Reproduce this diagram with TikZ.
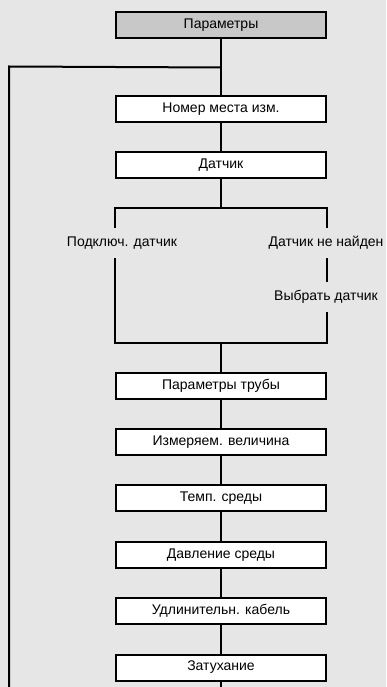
\documentclass[tikz,border=0pt]{standalone}
\usepackage{fontspec}
\setmainfont{Liberation Sans}
\usetikzlibrary{positioning}
\definecolor{panelgray}{HTML}{E6E6E6}
\definecolor{headgray}{HTML}{C8C8C8}

\begin{document}
\begin{tikzpicture}[
        x=1pt, y=1pt,
        every node/.style={font=\fontsize{14}{16}\selectfont},
        menubox/.style={rectangle, draw, line width=2pt, minimum width=210pt, minimum height=26pt, inner sep=0pt, fill=#1},
        menubox/.default=white,
        optlabel/.style={minimum height=30pt, inner sep=0pt},
        link/.style={line width=2pt}
    ]
%
    \fill[panelgray] (0,0) rectangle (386,-687);
    \useasboundingbox (0,0) rectangle (386,-687);
%
    \node[menubox=headgray] (param) at (221,-25.5) {Параметры};
    \node[menubox, below=55.5pt of param] (place) {Номер места изм.};
    \node[menubox, below=28pt of place] (sensor) {Датчик};
    \node[menubox, below=192.5pt of sensor] (pipe) {Параметры трубы};
    \node[menubox, below=28.4pt of pipe] (quantity) {Измеряем. величина};
    \node[menubox, below=28.4pt of quantity] (temp) {Темп. среды};
    \node[menubox, below=28.4pt of temp] (pressure) {Давление среды};
    \node[menubox, below=28.4pt of pressure] (cable) {Удлинительн. кабель};
    \node[menubox, below=28.4pt of cable] (damping) {Затухание};
%
    % sensor options
    \node[optlabel] (connect) at (122,-243) {Подключ. датчик};
    \node[optlabel] (notfound) at (326,-243) {Датчик не найден};
    \node[optlabel] (choose) at (326,-297) {Выбрать датчик};
%
    \coordinate[below=28pt of param] (loopjoin);
    \coordinate (loopleft) at (9,-66.5);
    \coordinate (loopend) at (9,-687);
    \coordinate (tail) at (221,-687);
    \coordinate[below=29pt of sensor] (brtop);
    \coordinate[above=29pt of pipe] (brbot);
    \coordinate (brtl) at (brtop -| sensor.west);
    \coordinate (brtr) at (brtop -| sensor.east);
    \coordinate (brbl) at (brbot -| sensor.west);
    \coordinate (brbr) at (brbot -| sensor.east);
%
    \draw[link] (param) -- (place);
    \draw[link] (loopjoin) -- (loopleft) -- (loopend);
    \draw[link] (place) -- (sensor);
    \draw[link] (sensor) -- (brtop);
    \draw[link] (connect.north -| brtl) -- (brtl) -- (brtr) -- (notfound.north -| brtr);
    \draw[link] (notfound.south -| brtr) -- (choose.north -| brtr);
    \draw[link] (connect.south -| brbl) -- (brbl) -- (brbr) -- (choose.south -| brbr);
    \draw[link] (brbot) -- (pipe);
    \draw[link] (pipe) -- (quantity);
    \draw[link] (quantity) -- (temp);
    \draw[link] (temp) -- (pressure);
    \draw[link] (pressure) -- (cable);
    \draw[link] (cable) -- (damping);
    \draw[link] (damping) -- (tail);
%
\end{tikzpicture}
\end{document}
